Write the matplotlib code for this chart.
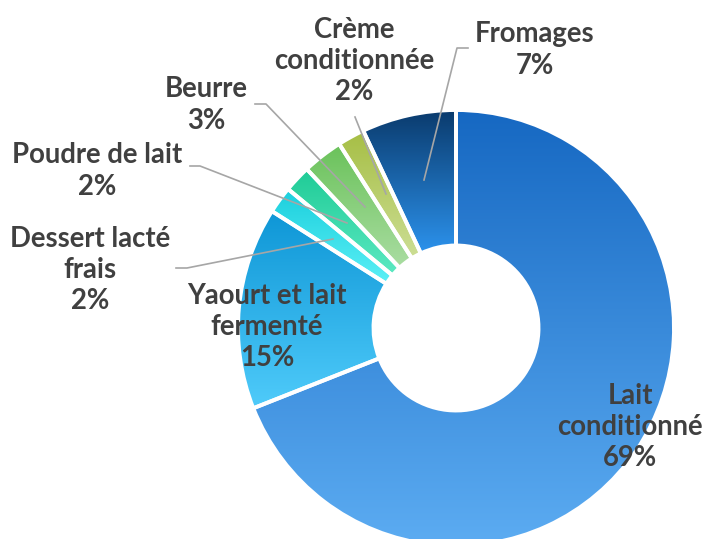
"""Donut chart: répartition des produits laitiers."""

import matplotlib
matplotlib.use("Agg")
import matplotlib.pyplot as plt
import numpy as np
from matplotlib.colors import LinearSegmentedColormap

# Data (clockwise from 12 o'clock)
categories = ["Lait\nconditionné", "Yaourt et lait\nfermenté", "Dessert lacté\nfrais",
              "Poudre de lait", "Beurre", "Crème\nconditionnée", "Fromages"]
shares = [69, 15, 2, 2, 3, 2, 7]

# gradient (top colour, bottom colour) per slice
grad_top = ["#1668C2", "#0E96D6", "#1BCFDD", "#1ECB96", "#6AC25A", "#A6BE44", "#0A3A6C"]
grad_bottom = ["#5CACF2", "#4FCBFA", "#5CF0F6", "#5CE9C2", "#AADDA2", "#CCDE94", "#2C92EC"]

# label positions in pixel space (y measured from top)
label_xy = [(630, 427), (267, 327), (90, 270), (97, 171), (206, 105), (354, 61), (535, 50)]

W, H = 707, 539
CX, CY = 456, H - 328
R_OUT, R_IN = 218, 82.5

fig = plt.figure(figsize=(W / 100, H / 100), dpi=100)
ax = fig.add_axes([0, 0, 1, 1])

wedges, _ = ax.pie(shares, center=(CX, CY), radius=R_OUT, startangle=90,
                   counterclock=False,
                   wedgeprops=dict(width=R_OUT - R_IN, edgecolor="white",
                                   linewidth=2.8, facecolor="none", zorder=3))

for w, c0, c1 in zip(wedges, grad_top, grad_bottom):
    w.set_facecolor("none")
    bb = w.get_path().get_extents()
    cmap = LinearSegmentedColormap.from_list("g", [c0, c1])
    grad = np.linspace(0, 1, 256).reshape(-1, 1)
    im = ax.imshow(grad, cmap=cmap, aspect="auto", origin="upper",
                   extent=(bb.x0, bb.x1, bb.y0, bb.y1), zorder=2,
                   interpolation="bilinear")
    im.set_clip_path(w)

# labels
for text, pct, (lx, ly) in zip(categories, shares, label_xy):
    ax.text(lx, H - ly, f"{text}\n{pct}%", ha="center", va="center",
            multialignment="center", fontsize=19.8, fontweight="bold",
            family="Lato", color="#404040", linespacing=1.25, zorder=5)

# leader lines (pixel space, y from top)
leaders = [
    [(176, 268), (187, 268), (333, 239)],
    [(190, 166), (200, 166), (347, 223)],
    [(255, 104), (266, 104), (365, 207)],
    [(355, 117), (386, 194)],
    [(468, 48), (457, 48), (424, 180)],
]
for pts in leaders:
    xs = [p[0] for p in pts]
    ys = [H - p[1] for p in pts]
    ax.plot(xs, ys, color="#A6A6A6", lw=1.2, zorder=4)

ax.set_xlim(0, W)
ax.set_ylim(0, H)
ax.set_aspect("auto")
ax.axis("off")

fig.savefig("out.png", dpi=100)
